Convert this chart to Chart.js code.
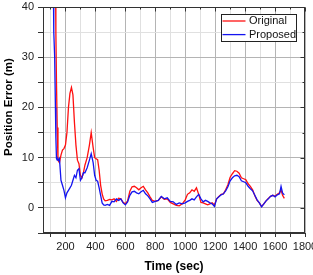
<!DOCTYPE html>
<html><head><meta charset="utf-8">
<script src="https://cdn.jsdelivr.net/npm/chart.js@4/dist/chart.umd.min.js"></script>
<style>html,body{margin:0;padding:0;background:#fff}</style>
</head><body>
<canvas id="c" width="313" height="275"></canvas>
<script>
const timeSec = [118,122,128,133,136,140,145,150,155,160,
 170,180,190,200,210,220,230,240,250,260,
 270,280,290,300,310,320,330,345,360,372,
 385,395,405,415,425,435,445,455,465,480,
 495,510,525,540,555,570,585,600,615,630,
 645,660,675,690,705,720,735,750,765,780,
 800,820,840,860,880,900,920,940,960,980,
 1000,1015,1030,1045,1060,1075,1090,1105,1120,1135,
 1150,1165,1180,1195,1210,1225,1240,1255,1270,1285,
 1300,1315,1330,1345,1360,1375,1390,1405,1420,1435,
 1450,1465,1480,1495,1510,1525,1540,1555,1570,1585,
 1600,1615,1630,1640,1650,1662];
const originalErr = [null,null,null,48,35,25,16,9.5,9.2,9,
 10.5,11.5,11.8,12.5,15,20,22.8,24,22.5,17,
 12.5,9.5,8.8,6.5,6,7,8.5,10,12.5,15,
 12,10,9.8,9.6,7.5,4.5,2.8,1.8,1.4,1.5,
 1.7,1.6,1.8,1.3,1.9,1.8,1.1,0.8,1.4,3.3,
 4.2,4.3,4.0,3.6,4.0,4.3,3.6,3.0,2.2,1.5,
 1.3,1.5,2.2,1.7,1.8,1.1,0.8,0.5,0.4,0.8,
 1.6,2.7,3.0,3.6,3.3,4.0,2.7,1.1,1.0,0.8,
 0.6,0.8,1.0,0.6,1.8,2.3,2.7,2.8,3.6,4.6,
 6.1,6.8,7.4,7.3,6.9,6.0,5.8,5.6,4.8,4.3,
 3.6,2.4,1.5,1.0,0.3,0.8,1.4,1.9,2.3,2.5,
 2.3,2.7,3.0,3.6,2.5,1.9];
const proposedErr = [48,35,30,20,14,9.8,9.5,9.8,9.5,9.8,
 5.5,4.5,3.5,2,3,3.5,4,4.5,5.5,6.5,
 6,7.5,7.8,5.5,6,7,7,8,9.5,10.8,
 9,6.5,5.5,5.3,4,2.5,1,0.6,0.5,0.7,
 0.5,1.3,1.2,1.8,1.5,1.8,1.0,0.6,1.2,2.5,
 3.2,3.3,3,2.8,3.2,3.5,2.8,2.4,1.8,1.1,
 1.3,1.5,2.3,1.8,2.0,1.3,1.2,0.7,1.0,0.8,
 1.0,1.3,1.5,1.8,1.6,2.2,2.7,1.8,1.2,1.5,
 1.3,1.0,0.8,0.3,1.8,2.2,2.6,2.8,3.4,4.2,
 5.4,6,6.4,6.5,6.2,5.4,5.2,5.0,4.3,3.8,
 3.4,2.5,1.6,1.0,0.2,0.8,1.4,1.8,2.3,2.5,
 2.2,2.6,2.8,4.3,3.0,2.6];
const seriesNames = ['Original','Proposed'];
const seriesColors = ['#ff1010','#1414f0'];
const xTickLabels = [200,400,600,800,1000,1200,1400,1600,1800];
const yTickLabels = [0,10,20,30,40];
const xTitle = 'Time (sec)';
const yTitle = 'Position Error (m)';

const FONT = "'Liberation Sans', Arial, sans-serif";

const decor = {
  id: 'decor',
  afterDraw(chart) {
    const {ctx, chartArea: a, scales: {x, y}} = chart;
    ctx.save();
    const L = Math.round(a.left) + 0.5, T = Math.round(a.top) + 0.5;
    const R = Math.round(a.right) - 0.5, B = Math.round(a.bottom) - 0.5;
    ctx.strokeStyle = '#333';
    ctx.lineWidth = 1;
    ctx.strokeRect(L, T, R - L, B - T);
    ctx.beginPath();
    x.ticks.forEach(t => {
      const px = Math.round(x.getPixelForValue(t.value)) + 0.5;
      const len = (t.value % 200 === 0) ? 4 : 2;
      ctx.moveTo(px, T); ctx.lineTo(px, T + len);
    });
    y.ticks.forEach(t => {
      const py = Math.round(y.getPixelForValue(t.value)) + 0.5;
      const len = (t.value % 10 === 0) ? 4 : 2;
      ctx.moveTo(R, py); ctx.lineTo(R - len, py);
    });
    ctx.stroke();
    // legend
    const bx = Math.round(a.right) - 84 + 0.5, by = Math.round(a.top) + 7 + 0.5;
    ctx.fillStyle = '#fff';
    ctx.fillRect(bx, by, 75, 27);
    ctx.strokeStyle = '#222';
    ctx.strokeRect(bx, by, 75, 27);
    ctx.font = '11px ' + FONT;
    ctx.textBaseline = 'middle';
    ctx.textAlign = 'left';
    chart.data.datasets.forEach((ds, i) => {
      const ly = by + 6.5 + i * 13.6;
      ctx.strokeStyle = ds.borderColor;
      ctx.lineWidth = 1.3;
      ctx.beginPath(); ctx.moveTo(bx + 1, ly); ctx.lineTo(bx + 24, ly); ctx.stroke();
      ctx.fillStyle = '#111';
      ctx.fillText(ds.label, bx + 27.5, ly);
    });
    // y title
    ctx.translate(9, 107);
    ctx.rotate(-Math.PI / 2);
    ctx.font = 'bold 11.5px ' + FONT;
    ctx.textAlign = 'center';
    ctx.fillStyle = '#000';
    ctx.fillText(yTitle, 0, 0);
    ctx.restore();
  }
};

new Chart(document.getElementById('c'), {
  type: 'line',
  data: {
    datasets: seriesNames.map((name, i) => ({
      label: name,
      data: timeSec.map((t, k) => ({x: t, y: (i === 0 ? originalErr : proposedErr)[k]})),
      borderColor: seriesColors[i],
      backgroundColor: seriesColors[i],
      borderWidth: 1.3,
      pointRadius: 0,
      tension: 0,
      fill: false,
      order: i === 0 ? 1 : 0,
      clip: 0
    }))
  },
  options: {
    responsive: false,
    animation: false,
    layout: {padding: {left: 0, right: 8, top: 7, bottom: 0}},
    plugins: {legend: {display: false}, tooltip: {enabled: false}},
    scales: {
      x: {
        type: 'linear', min: 50, max: 1800,
        ticks: {
          stepSize: 100, includeBounds: false, autoSkip: false, maxRotation: 0,
          callback: v => xTickLabels.includes(v) ? String(v) : '',
          font: {size: 11, family: FONT}, color: '#222', padding: 3
        },
        grid: {
          color: c => (c.tick && c.tick.value % 200 === 0) ? '#b4b4b4' : '#e0e0e0',
          tickColor: '#333', tickLength: 4, lineWidth: 1
        },
        border: {color: '#333', width: 1},
        title: {display: true, text: xTitle, font: {size: 12, weight: 'bold', family: FONT}, color: '#000', padding: {top: 0, bottom: 1}},
        afterFit: s => { s.height = 42; s.paddingLeft = 0; s.paddingRight = 0; }
      },
      y: {
        type: 'linear', min: -5, max: 40,
        ticks: {
          stepSize: 5, autoSkip: false,
          callback: v => yTickLabels.includes(v) ? String(v) : '',
          font: {size: 11, family: FONT}, color: '#222', padding: 4
        },
        grid: {
          color: c => (c.tick && c.tick.value % 10 === 0) ? '#b4b4b4' : '#e0e0e0',
          tickColor: '#333', tickLength: 5, lineWidth: 1
        },
        border: {color: '#333', width: 1},
        afterFit: s => { s.width = 43; s.paddingTop = 0; s.paddingBottom = 0; }
      }
    }
  },
  plugins: [decor]
});
</script>
</body></html>
